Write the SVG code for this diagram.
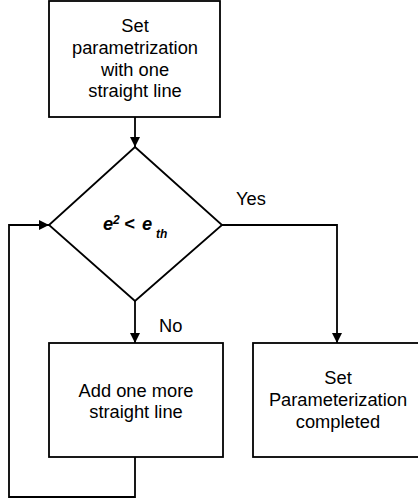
<svg xmlns="http://www.w3.org/2000/svg" width="418" height="504" viewBox="0 0 418 504">
<defs>
<style>
.s{fill:#fff;stroke:#000;stroke-width:1.8}
.c{fill:none;stroke:#000;stroke-width:1.8}
text{font-family:"Liberation Sans",Arial,sans-serif;font-size:18.3px;fill:#000}
.m{text-anchor:middle}
.e{font-weight:bold;font-style:italic}
</style>
<marker id="a" markerWidth="10" markerHeight="10" refX="10" refY="5" orient="auto" markerUnits="userSpaceOnUse">
<path d="M0,0 L10,5 L0,10 Z" fill="#000"/>
</marker>
</defs>
<g id="connectors">
<path class="c" d="M135,117 V147" marker-end="url(#a)"/>
<path class="c" d="M222,225 H337 V343" marker-end="url(#a)"/>
<path class="c" d="M135,301 V343" marker-end="url(#a)"/>
<path class="c" d="M135,457 V497 H9 V225 H49" marker-end="url(#a)"/>
<text x="236" y="205">Yes</text>
<text x="159" y="332">No</text>
</g>
<g id="n1">
<rect class="s" x="49" y="1" width="171" height="116"/>
<text class="m" x="135" y="32">Set</text>
<text class="m" x="135" y="54">parametrization</text>
<text class="m" x="135" y="76">with one</text>
<text class="m" x="135" y="97">straight line</text>
</g>
<g id="n2">
<path class="s" d="M135,147 L222,225 L135,301 L49,225 Z"/>
<text class="e" x="103" y="230">e<tspan font-size="12" x="113" dy="-6">2</tspan><tspan x="124" dy="6">&lt;</tspan><tspan x="142">e</tspan><tspan font-size="12" dy="8" x="156">th</tspan></text>
</g>
<g id="n3">
<rect class="s" x="49" y="343" width="174" height="114"/>
<text class="m" x="136" y="397">Add one more</text>
<text class="m" x="136" y="418">straight line</text>
</g>
<g id="n4">
<rect class="s" x="253" y="343" width="170" height="114"/>
<text class="m" x="338" y="384">Set</text>
<text class="m" x="338" y="406">Parameterization</text>
<text class="m" x="338" y="428">completed</text>
</g>
</svg>
